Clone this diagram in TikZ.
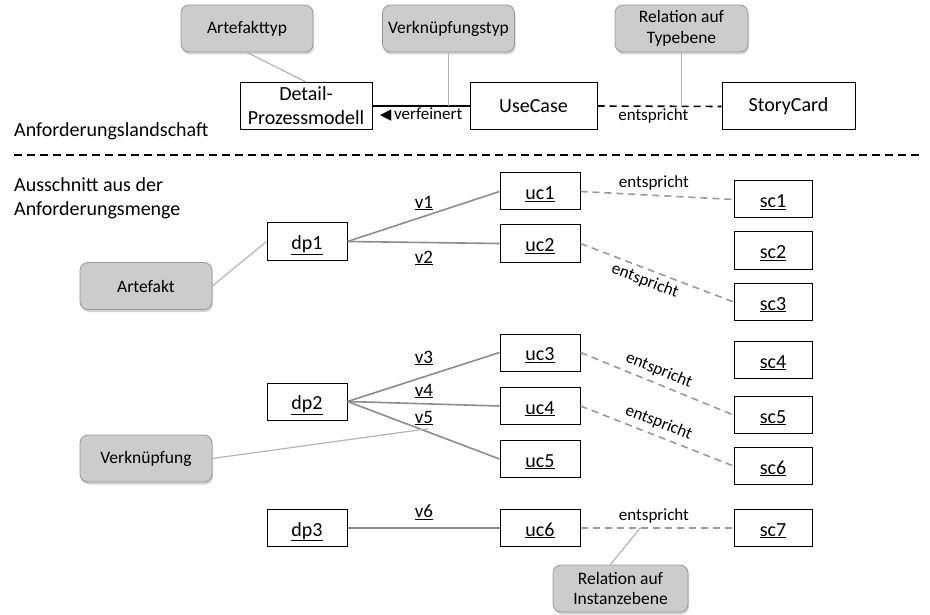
\documentclass[tikz,border=0pt]{standalone}
\usepackage{fontspec}
\setmainfont{Carlito}
\newfontfamily\symfont{DejaVu Sans}
\usetikzlibrary{shadows,calc}
\definecolor{notefill}{HTML}{CCCCCC}
\definecolor{noteline}{HTML}{999999}
\definecolor{notelink}{HTML}{B3B3B3}
\definecolor{instlink}{HTML}{8C8C8C}
\definecolor{matchlink}{HTML}{999999}
\begin{document}
\begin{tikzpicture}[x=1pt, y=-1pt,
  every node/.style={font=\fontsize{20}{24}\selectfont},
  typebox/.style={draw, line width=1pt, minimum width=132pt, minimum height=47pt, inner sep=0pt, align=center},
  instbox/.style={draw, line width=1pt, minimum width=80pt, minimum height=37pt, inner sep=0pt,
    text height=19pt, text depth=3pt},
  note/.style={draw=noteline, fill=notefill, rounded corners=8pt, line width=0.8pt,
    minimum width=132pt, minimum height=47pt, inner sep=0pt, align=center,
    font=\fontsize{17.5}{20.5}\selectfont,
    drop shadow={opacity=0.35, shadow xshift=1pt, shadow yshift=-2.5pt}},
  vlabel/.style={font=\fontsize{19}{22}\selectfont},
  rel/.style={font=\fontsize{17}{20}\selectfont, inner sep=2pt},
  notewire/.style={draw=notelink, line width=1.2pt},
  instwire/.style={draw=instlink, line width=1.6pt},
  matchwire/.style={draw=matchlink, line width=1.6pt, dash pattern=on 7pt off 5pt}]
\useasboundingbox (0,0) rectangle (930,615);

% Typebene
\node[note] (arttyp) at (247,28.5){Artefakttyp};
\node[note] (vtyp) at (448.5,28.5){Verknüpfungstyp};
\node[note, minimum width=133pt] (rtyp) at (681.5,28.5){Relation auf\\Typebene};
\node[typebox] (dpm) at (306,106){Detail-\\Prozessmodell};
\node[typebox, minimum width=127pt] (usecase) at (533.5,106){UseCase};
\node[typebox, minimum width=133pt] (story) at (788.5,106.5){StoryCard};
\draw[line width=1.6pt] (dpm.east) -- node[pos=0.5, below, rel, yshift=1pt]{{\symfont\fontsize{15}{18}\selectfont ◀}\,verfeinert} (usecase.west);
\draw[line width=1.6pt, dash pattern=on 7pt off 5pt] (usecase.east) -- node[pos=0.45, below, rel]{entspricht} (story.west);
\draw[notewire] (arttyp.south) -- (dpm.north);
\draw[notewire] (vtyp.south) -- (vtyp.south |- dpm.east);
\draw[notewire] (rtyp.south) -- (rtyp.south |- usecase.east);
\node[anchor=west, inner sep=0pt] (land) at (14,131){Anforderungslandschaft};

\draw[line width=1.3pt, dash pattern=on 8pt off 5pt] (14,155) -- (920,155);

% Instanzebene
\node[anchor=west, align=left, inner sep=0pt] (menge) at (14,198){Ausschnitt aus der\\Anforderungsmenge};

\node[instbox] (dp1) at (307,241.5){\underline{dp1}};
\node[instbox] (dp2) at (307,401.5){\underline{dp2}};
\node[instbox] (dp3) at (307,528){\underline{dp3}};
\node[instbox] (uc1) at (540,191.5){\underline{uc1}};
\node[instbox] (uc2) at (540,243.5){\underline{uc2}};
\node[instbox] (uc3) at (540,352.5){\underline{uc3}};
\node[instbox] (uc4) at (540,406){\underline{uc4}};
\node[instbox] (uc5) at (540,459){\underline{uc5}};
\node[instbox] (uc6) at (540,528){\underline{uc6}};
\node[instbox, minimum width=78pt] (sc1) at (773,199.5){\underline{sc1}};
\node[instbox, minimum width=78pt] (sc2) at (773,250.5){\underline{sc2}};
\node[instbox, minimum width=78pt] (sc3) at (773,302){\underline{sc3}};
\node[instbox, minimum width=78pt] (sc4) at (773,360){\underline{sc4}};
\node[instbox, minimum width=78pt] (sc5) at (773,415){\underline{sc5}};
\node[instbox, minimum width=78pt] (sc6) at (773,466){\underline{sc6}};
\node[instbox, minimum width=78pt] (sc7) at (773,528){\underline{sc7}};

\node[vlabel] (v1) at (424,203){\underline{v1}};
\node[vlabel] (v2) at (424,258){\underline{v2}};
\node[vlabel] (v3) at (424,358){\underline{v3}};
\node[vlabel] (v4) at (424,391){\underline{v4}};
\node[vlabel] (v5) at (424,418){\underline{v5}};
\node[vlabel] (v6) at (424,512){\underline{v6}};

\draw[instwire] (dp1.east) -- (uc1.west);
\draw[instwire] (dp1.east) -- (uc2.west);
\draw[instwire] (dp2.east) -- (uc3.west);
\draw[instwire] (dp2.east) -- (uc4.west);
\draw[instwire] (dp2.east) -- (uc5.west);
\draw[instwire] (dp3.east) -- (uc6.west);

\draw[matchwire] (uc1.east) -- node[pos=0.48, above, rel, yshift=2pt]{entspricht} (sc1.west);
\draw[matchwire] (uc2.east) -- node[pos=0.45, below=2pt, sloped, rel]{entspricht} (sc3.west);
\draw[matchwire] (uc3.east) -- node[pos=0.48, above=3pt, sloped, rel]{entspricht} (sc5.west);
\draw[matchwire] (uc4.east) -- node[pos=0.48, above=3pt, sloped, rel]{entspricht} (sc6.west);
\draw[matchwire] (uc6.east) -- node[pos=0.48, above, rel, yshift=2pt]{entspricht} (sc7.west);
\coordinate (rinst) at ($(uc6.east)!0.39!(sc7.west)$);

\node[note] (art) at (146,286){Artefakt};
\node[note] (verk) at (146,458.5){Verknüpfung};
\node[note, minimum width=135pt] (rins) at (620.5,588.5){Relation auf\\Instanzebene};
\draw[notewire] (art.east) -- (dp1.west);
\draw[notewire] (verk.east) -- ([xshift=4pt]v5.south);
\draw[notewire] ([xshift=-10pt]rins.north) -- (rinst);

\end{tikzpicture}
\end{document}
